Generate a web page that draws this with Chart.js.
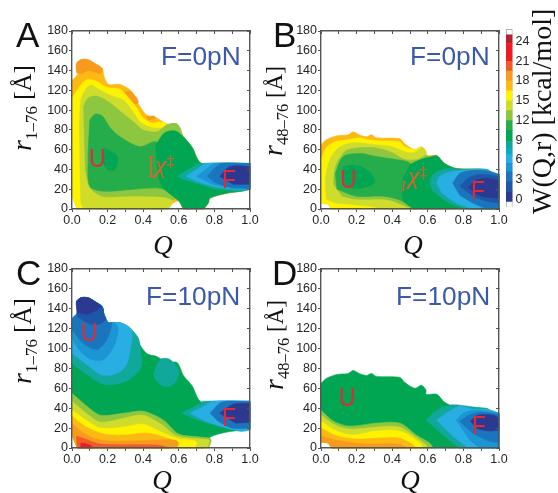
<!DOCTYPE html>
<html><head><meta charset="utf-8">
<script src="https://cdn.jsdelivr.net/npm/chart.js@4"></script>
<style>
html,body{margin:0;padding:0;background:#fff;overflow:hidden}
#page{position:relative;width:558px;height:493px;filter:blur(.45px)}
canvas{position:absolute}
.t{position:absolute;white-space:nowrap;line-height:1}
.panel{font:35px "Liberation Sans";color:#111}
.force{font:26.3px "Liberation Sans";color:#3a5aa8}
.well{font:26px "Liberation Sans";color:#e4283c;transform-origin:0 0;transform:scaleX(.88)}
.ts{font:italic 26px "Liberation Serif";color:#e4602c}
.ts sup{font-size:16px;font-style:normal;vertical-align:6px}
.bar{font:32px "Liberation Serif";color:#e4602c;transform-origin:0 0;transform:scaleX(.6)}
.q{font:italic 27px "Liberation Serif";color:#111;transform:translateX(-50%)}
.rot{font:25px "Liberation Serif";color:#111;transform-origin:0 100%;transform:rotate(-90deg)}
.rot i{font-size:28px}
.rot sub{font-size:17px;vertical-align:-6px}
.rot.s{font-size:23px}
.rot.s sub{font-size:16.5px}
</style></head><body><div id="page"></div>
<script>
const qTicks=[0,.1,.2,.3,.4,.5,.6,.7,.8,.9,1];
const rTicks=[0,20,40,60,80,100,120,140,160,180];
const colorbarTicks=[0,3,6,9,12,15,18,21,24];
const levelFloor=[-.3,1.2,2.7,4.2,5.5,6.8,7.8,8.8,10.5,12,13.5,15,16.5,18,19.5,21,23.7];
const levelCeil=[1.2,2.7,4.2,5.5,6.8,7.8,8.8,10.5,12,13.5,15,16.5,18,19.5,21,23.7,25];
const levelColors=['#2b3990','#1f57a8','#1b75bc','#1b95d4','#29aee3','#0babc0','#10a89a','#00a651','#25ad4c','#8dc63f','#cfdc2b','#fff200','#fdb913','#f79a1d','#f15a29','#ed1c24','#b8202d'];

const outlineA=[[0,13],[0,130],[.03,136],[.025,147],[.05,151],[.09,151],[.13,147],[.17,142],[.18,134],[.205,126],[.27,126],[.335,119],[.37,107],[.42,95],[.477,92],[.533,86],[.59,86],[.626,73],[.673,63],[.73,46],[1,46],[1,20],[.953,18],[.87,16],[.776,11],[.766,6],[.74,0],[.625,0],[.6,8],[.56,5],[.54,0],[.03,0]];
const A_o1=[[.025,138],[.025,147],[.05,151],[.09,151],[.13,147],[.17,142],[.16,137],[.12,139],[.09,140],[.06,137]];
const A_o2=[[.26,115],[.32,119],[.365,112],[.37,107],[.32,107],[.27,111]];
const A_o3=[[.42,93],[.46,94],[.47,92],[.43,90]];
const A_y=[[0,13],[0,112],[.056,127],[.09,131],[.14,129],[.196,123],[.27,121],[.32,112],[.365,102],[.40,92],[.45,87],[.495,88],[.53,86],[.58,40],[.54,0],[.03,0]];
const A_yg=[[.05,6],[.045,43],[.05,110],[.10,125],[.16,120],[.215,115],[.29,110],[.335,100],[.39,87],[.46,82],[.51,82],[.57,86],[.6,40],[.56,5],[.54,0],[.065,0]];
const A_lg=[[.065,104],[.09,112],[.14,114],[.215,107],[.29,96],[.346,88],[.40,80],[.477,78],[.533,85],[.59,86],[.62,74],[.62,30],[.58,10],[.52,12],[.42,13],[.3,13],[.17,13],[.1,22],[.075,40]];
const A_mg=[[.10,90],[.13,96],[.17,94],[.215,82],[.27,73],[.38,63],[.46,68],[.5,66],[.56,60],[.6,30],[.6,13],[.495,21],[.345,20],[.18,18],[.10,23],[.09,55]];
const A_d1=[[.18,62],[.255,53],[.24,40],[.2,40],[.17,48]];
const A_d2=[[.47,64],[.52,77],[.58,79],[.626,73],[.673,63],[.73,46],[1,46],[1,20],[.953,18],[.87,16],[.776,11],[.766,6],[.74,0],[.625,0],[.6,8],[.52,20],[.49,30],[.475,50]];
const A_t=[[.59,33],[.664,41],[.72,46],[1,46],[1,20],[.944,18],[.87,19],[.794,21],[.70,26],[.626,30]];
const A_c=[[.64,33],[.70,40],[.76,46],[1,46],[1,20],[.92,20],[.794,23],[.70,28]];
const A_lb=[[.70,33],[.76,41],[.80,46],[1,46],[1,20],[.90,21],[.79,25]];
const A_b=[[.76,33],[.80,41],[.84,46],[1,46],[1,21],[.89,22],[.80,27]];
const A_db=[[.83,33],[.888,43],[1,43],[1,25],[.907,25]];

const outlineB=[[0,6],[0,65],[.03,70],[.09,74],[.153,75],[.18,78],[.215,75],[.256,73],[.284,75],[.31,72],[.443,71],[.47,66],[.527,60],[.565,63],[.59,58],[.59,54],[.65,54],[.695,46],[.76,41],[.93,40],[.966,36],[1,35],[1,0],[.06,0],[.04,5]];
const B_y=[[0,6],[0,50],[.03,62],[.08,68],[.15,70],[.22,72],[.26,70],[.31,69],[.44,68],[.47,63],[.53,60],[.56,62],[.6,40],[.55,0],[.06,0],[.04,5]];
const B_yg=[[.03,10],[.025,30],[.05,50],[.1,62],[.18,67],[.3,65],[.4,63],[.47,58],[.52,57],[.57,62],[.59,56],[.6,40],[.53,0],[.35,0],[.26,3],[.08,6]];
const B_lg=[[.07,25],[.08,42],[.1,50],[.15,60],[.3,62],[.4,57],[.47,50],[.54,50],[.6,54],[.6,30],[.52,0],[.47,3],[.42,7],[.35,10],[.2,10],[.12,13]];
const B_mg=[[.08,36],[.125,53],[.22,56],[.31,53],[.42,50],[.5,46],[.55,20],[.52,0],[.443,9],[.35,13],[.2,13],[.09,20]];
const B_d1=[[.125,43],[.2,44],[.27,38],[.3,27],[.22,21],[.14,23],[.12,32]];
const B_d2=[[.5,45],[.56,50],[.62,53],[.65,54],[.695,46],[.76,41],[.93,40],[.966,36],[1,35],[1,0],[.52,0],[.46,10],[.46,30]];
const B_t=[[.61,26],[.63,35],[.705,41],[.78,40],[.93,40],[.966,36],[1,35],[1,0],[.82,0],[.72,6],[.63,18]];
const B_c=[[.65,26],[.667,33],[.74,38],[.93,40],[.966,36],[1,35],[1,0],[.854,0],[.76,6],[.68,16]];
const B_b=[[.74,26],[.78,36],[.854,39],[.95,38],[1,35],[1,0],[.93,0],[.854,6],[.78,14]];
const B_mb=[[.78,23],[.826,31],[.89,35],[1,33],[1,6],[.93,8],[.854,13]];
const B_db=[[.83,22],[.87,29],[.93,31],[1,29],[1,11],[.93,12],[.87,15]];

const C_t=[[0,85],[.084,74],[.178,64],[.27,65],[.33,70],[.39,82],[.385,98],[.374,110],[.335,119],[.27,126],[.205,126],[.18,134],[.17,142],[.13,147],[.09,151],[.05,151],[.025,147],[.03,136],[0,130]];
const C_c=[[0,95],[.084,84],[.16,74],[.234,74],[.3,82],[.327,99],[.335,119],[.27,126],[.205,126],[.18,134],[.17,142],[.13,147],[.09,151],[.05,151],[.025,147],[.03,136],[0,130]];
const C_lb=[[0,110],[.047,97],[.11,89],[.178,89],[.234,102],[.26,119],[.24,126],[.205,126],[.18,134],[.17,142],[.13,147],[.09,151],[.05,151],[.025,147],[.03,136],[0,130]];
const C_b=[[0,119],[.065,105],[.14,99],[.196,109],[.224,126],[.205,126],[.18,134],[.17,142],[.13,147],[.09,151],[.05,151],[.025,147],[.03,136],[0,130]];
const C_mb=[[.03,132],[.1,125],[.16,125],[.19,130],[.18,134],[.17,142],[.13,147],[.09,151],[.05,151],[.025,147]];
const C_db=[[.03,136],[.094,135],[.16,142],[.13,147],[.09,151],[.05,151],[.025,147]];
const C_p=[[.458,75],[.495,89],[.55,89],[.6,77],[.57,64],[.514,62],[.467,69]];
const C_lg=[[0,55],[.084,42],[.16,33],[.29,35],[.40,37],[.514,28],[.6,14],[.72,11],[.78,9],[.77,0],[.03,0],[0,13]];
const C_yg=[[0,47],[.08,35],[.16,26],[.29,30],[.40,33],[.5,24],[.59,12],[.72,9],[.77,8],[.76,0],[.03,0],[0,13]];
const C_y=[[0,38],[.08,28],[.16,20],[.29,21],[.40,24],[.5,16],[.6,9],[.66,8],[.7,6],[.69,0],[.03,0],[0,13]];
const C_lo=[[0,32],[.08,21],[.18,14],[.3,13],[.42,15],[.55,9],[.6,5],[.59,0],[.03,0],[0,13]];
const C_o=[[0,25],[.065,15],[.16,8],[.345,7],[.477,8],[.59,7],[.59,0],[.03,0],[0,13]];
const C_or=[[.025,12],[.06,10],[.16,4],[.48,3],[.55,0],[.03,0]];
const C_r=[[.05,5],[.1,3],[.12,0],[.05,0]];
const C_ft=[[.617,35],[.72,45],[.74,47],[1,47],[1,18],[.944,17],[.83,22],[.72,27]];
const C_fc=[[.664,35],[.74,42],[.794,47],[1,47],[1,18],[.944,17],[.85,21],[.75,27]];
const C_fb=[[.776,35],[.83,45],[.87,47],[1,47],[1,20],[.9,20],[.82,27]];
const C_fd=[[.83,35],[.906,44],[1,45],[1,26],[.92,25]];

const D_lg=[[0,38],[.07,27],[.16,22],[.31,25],[.443,25],[.536,13],[.61,5],[.63,0],[.06,0],[.04,5],[0,6]];
const D_yg=[[0,33],[.07,24],[.16,19],[.31,21],[.44,21],[.53,11],[.59,3],[.6,0],[.06,0],[.04,5],[0,6]];
const D_y=[[0,27],[.088,17],[.18,13],[.31,17],[.443,17],[.555,5],[.574,0],[.06,0],[.04,5],[0,6]];
const D_lo=[[0,20],[.09,12],[.2,9],[.33,10],[.44,10],[.52,3],[.53,0],[.06,0],[.04,5],[0,6]];
const D_o=[[0,12],[.08,8],[.25,4],[.42,4],[.5,0],[.06,0],[.04,5],[0,6]];
const D_t=[[.59,28],[.65,38],[.72,43],[.78,43],[.93,39],[1,35],[1,0],[.78,0],[.705,10],[.63,22]];
const D_c=[[.65,28],[.705,35],[.78,42],[.854,39],[.93,39],[1,35],[1,0],[.826,0],[.74,12]];
const D_lb=[[.76,28],[.8,35],[.87,38],[1,35],[1,0],[.89,0],[.836,8]];
const D_b=[[.78,27],[.83,33],[.9,36],[1,34],[1,5],[.93,8],[.85,15]];
const D_db=[[.84,27],[.88,33],[.97,33],[1,30],[1,18],[.95,17],[.88,19]];

const layersA=[[12,outlineA],[13,A_o1],[13,A_o2],[13,A_o3],[11,A_y],[10,A_yg],[9,A_lg],[8,A_mg],[7,A_d1],[7,A_d2],[6,A_t],[4,A_c],[3,A_lb],[2,A_b],[0,A_db]];
const layersB=[[12,outlineB],[11,B_y],[10,B_yg],[9,B_lg],[8,B_mg],[7,B_d1],[7,B_d2],[6,B_t],[4,B_c],[2,B_b],[1,B_mb],[0,B_db]];
const layersC=[[7,outlineA],[6,C_t],[4,C_c],[3,C_lb],[2,C_b],[1,C_mb],[0,C_db],[6,C_p],[9,C_lg],[10,C_yg],[11,C_y],[12,C_lo],[13,C_o],[14,C_or],[15,C_r],[6,C_ft],[4,C_fc],[2,C_fb],[0,C_fd]];
const layersD=[[7,outlineB],[9,D_lg],[10,D_yg],[11,D_y],[12,D_lo],[13,D_o],[6,D_t],[4,D_c],[3,D_lb],[2,D_b],[0,D_db]];

const page=document.getElementById('page');
const polygonFill={id:'polygonFill',beforeDatasetDraw(chart,{meta}){
  const c=chart.ctx,ds=meta.dataset;if(!ds)return;
  c.save();c.beginPath();ds.path(c);c.closePath();
  c.fillStyle=meta._dataset.backgroundColor;c.strokeStyle=meta._dataset.backgroundColor;c.lineWidth=.6;c.fill();c.stroke();c.restore();
}};
const frame='#555';
// A vertex lying on the frame is repeated so that the spline keeps a sharp corner there.
const vertices=pts=>pts.flatMap(([x,y])=>(x===0||x===1||y===0)?[{x,y},{x,y}]:[{x,y}]);
function panel(layers,left,top,right,bottom,canvasLeft){
  const cv=document.createElement('canvas');
  const cTop=top-16;
  const w=right-canvasLeft+10,h=bottom-cTop+22;
  cv.width=w;cv.height=h;cv.style.cssText=`left:${canvasLeft}px;top:${cTop}px;width:${w}px;height:${h}px`;
  page.appendChild(cv);
  const tickCfg=(vals)=>s=>{s.ticks=vals.map(v=>({value:v}))};
  new Chart(cv,{type:'scatter',plugins:[polygonFill],
    data:{datasets:layers.map(([lvl,pts],i)=>({data:vertices(pts),backgroundColor:levelColors[lvl],borderWidth:0,borderColor:levelColors[lvl],showLine:true,pointRadius:0,pointHoverRadius:0,tension:.3,fill:false,order:layers.length-i,clip:false}))},
    options:{responsive:false,animation:false,events:[],
      layout:{padding:{left:0,top:16,right:10,bottom:0}},
      plugins:{legend:{display:false},tooltip:{enabled:false},title:{display:false}},
      scales:{
        x:{type:'linear',position:'bottom',min:0,max:1,afterBuildTicks:tickCfg(qTicks),afterFit:s=>{s.height=22},
          border:{color:frame,width:1.4,z:2},grid:{drawOnChartArea:false,color:frame,tickLength:3,lineWidth:1,z:2},
          ticks:{autoSkip:false,maxRotation:0,padding:1,color:'#262626',font:{family:'Liberation Sans',size:12.5},callback:v=>Math.round(v*10)%2===0?v.toFixed(1):''}},
        y:{type:'linear',position:'left',min:0,max:180,afterBuildTicks:tickCfg(rTicks),afterFit:s=>{s.width=left-canvasLeft},
          border:{color:frame,width:1.4,z:2},grid:{drawOnChartArea:false,color:frame,tickLength:3,lineWidth:1,z:2},
          ticks:{autoSkip:false,padding:1,color:'#262626',font:{family:'Liberation Sans',size:12.5}}},
        x2:{type:'linear',position:'top',min:0,max:1,afterBuildTicks:tickCfg(qTicks),afterFit:s=>{s.height=0},
          border:{color:frame,width:1.4,z:2},grid:{drawOnChartArea:false,color:frame,tickLength:-3,lineWidth:1,z:2},ticks:{display:false}},
        y2:{type:'linear',position:'right',min:0,max:180,afterBuildTicks:tickCfg(rTicks),afterFit:s=>{s.width=0},
          border:{color:frame,width:1.4,z:2},grid:{drawOnChartArea:false,color:frame,tickLength:-3,lineWidth:1,z:2},ticks:{display:false}}
      }}});
}
panel(layersA,72,31,250,209,0);
panel(layersB,321,31,499,209,262);
panel(layersC,72,269,250,448,0);
panel(layersD,321,269,499,448,262);

// colour bar
(function(){
  const cv=document.createElement('canvas');const W=34,H=200;
  cv.width=W;cv.height=H;cv.style.cssText=`left:500px;top:18px;width:${W}px;height:${H}px`;page.appendChild(cv);
  const sets=levelColors.map((col,i)=>({data:[[levelFloor[i],levelCeil[i]]],backgroundColor:col,order:1}));
  sets.push({data:[[-1.15,25.9]],backgroundColor:'#fff',borderColor:'#999',borderWidth:1,order:2});
  new Chart(cv,{type:'bar',data:{labels:['W'],datasets:sets},
    options:{responsive:false,animation:false,events:[],layout:{padding:{left:6,top:11,bottom:11,right:0}},
      datasets:{bar:{barPercentage:1,categoryPercentage:1,grouped:false}},
      plugins:{legend:{display:false},tooltip:{enabled:false}},
      scales:{x:{display:false},
        y:{position:'right',min:-1.15,max:25.9,afterBuildTicks:s=>{s.ticks=colorbarTicks.map(v=>({value:v}))},afterFit:s=>{s.width=W-6-6.5},
          border:{display:false},grid:{display:false,drawTicks:false},
          ticks:{autoSkip:false,padding:3,color:'#262626',font:{family:'Liberation Sans',size:12.5}}}}}});
})();

// text
function add(cls,html,x,y){const d=document.createElement('div');d.className='t '+cls;d.innerHTML=html;d.style.left=x+'px';d.style.top=y+'px';page.appendChild(d);return d;}
add('panel','A',16,15);add('panel','B',273,15);add('panel','C',16,253);add('panel','D',272,253);
add('force','F=0pN',161,41);add('force','F=0pN',410,41);add('force','F=10pN',146,281);add('force','F=10pN',396,281);
add('well','U',89,143);add('well','F',222,164);add('well','U',340,164);add('well','F',471,175);
add('well','U',81,317);add('well','F',222,402);add('well','U',339,382);add('well','F',472,410);
add('bar','I',148,148);add('ts','<i>χ</i><sup>‡</sup>',155,150);
add('ts','<span style="font:italic 15px Liberation Serif">I</span>',401,168);add('ts','<i>χ</i><sup>‡</sup>',408,161);
add('q','Q',163,230);add('q','Q',413,230);add('q','Q',162,465);add('q','Q',410,465);
add('rot','<i>r</i><sub>1–76</sub> [Å]',42,115);add('rot s','<i>r</i><sub>48–76</sub> [Å]',293,120);
add('rot','<i>r</i><sub>1–76</sub> [Å]',42,348);add('rot s','<i>r</i><sub>48–76</sub> [Å]',294,354);
const w=add('rot','W(Q,r) [kcal/mol]',558,182);w.style.fontSize='28px';
</script></body></html>
